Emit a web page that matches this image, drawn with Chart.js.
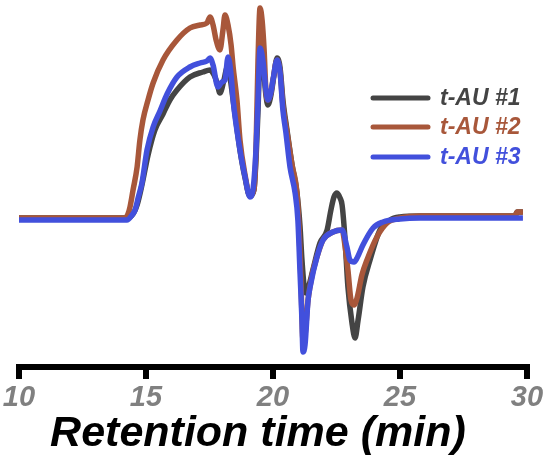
<!DOCTYPE html>
<html>
<head>
<meta charset="utf-8">
<script src="https://cdn.jsdelivr.net/npm/chart.js@4/dist/chart.umd.min.js"></script>
<style>
  html, body { margin: 0; padding: 0; background: #ffffff; }
  #wrap { width: 550px; height: 470px; }
</style>
</head>
<body>
<div id="wrap"><canvas id="c" width="550" height="470"></canvas></div>
<script>
// ---- data (retention time in min, detector signal in arbitrary units) ----
const seriesLabels = ['t-AU #1', 't-AU #2', 't-AU #3'];
const seriesColors = ['#444444', '#a8573a', '#4250dc'];
const xTicks = [10, 15, 20, 25, 30];

const time1 = [10.00,14.25,14.49,14.65,14.84,15.08,15.35,15.67,15.94,16.22,16.73,17.24,17.52,17.68,17.80,17.91,18.07,18.19,18.31,18.43,18.70,18.90,19.09,19.25,19.33,19.41,19.49,19.61,19.72,19.80,19.92,20.04,20.16,20.28,20.39,20.55,20.75,20.94,21.06,21.14,21.22,21.30,21.42,21.57,21.85,22.13,22.28,22.40,22.52,22.64,22.72,22.83,22.95,23.11,23.23,23.35,23.54,23.82,24.21,24.61,25.00,25.79,29.53,29.61,29.84];
const signal1 = [2,2,6,15,35,65,90,106,120,130,143,148,150,145,137,127,140,152,142,120,70,42,24,30,60,110,163,155,125,115,125,145,162,152,120,90,55,28,-5,-40,-65,-73,-65,-50,-23,-10,10,23,27,22,15,-17,-67,-103,-118,-100,-67,-40,-10,0,3,4,4,8,8];

const time2 = [10.00,14.17,14.29,14.37,14.49,14.65,14.76,14.88,15.08,15.28,15.67,16.22,16.73,17.13,17.40,17.52,17.64,17.76,17.91,18.03,18.11,18.23,18.35,18.43,18.58,18.70,18.90,19.09,19.25,19.33,19.41,19.49,19.57,19.65,19.72,19.80,19.92,20.00,20.16,20.28,20.39,20.55,20.75,20.94,21.02,21.10,21.18,21.26,21.38,21.54,21.73,21.97,22.36,22.72,22.83,22.95,23.07,23.19,23.31,23.50,23.70,24.09,24.49,25.00,25.79,29.53,29.61,29.84];
const signal2 = [2,2,6,13,30,53,80,100,120,137,160,180,192,195,197,203,195,180,170,190,205,195,175,153,120,80,45,24,30,70,160,212,200,170,130,120,128,140,160,148,115,88,55,28,-5,-60,-120,-115,-80,-55,-37,-20,-12,-10,-25,-50,-80,-85,-78,-55,-40,-17,-3,2,4,4,8,8];

const time3 = [10.00,14.25,14.45,14.57,14.69,14.84,15.04,15.28,15.55,15.83,16.22,16.73,17.13,17.40,17.52,17.64,17.83,17.99,18.11,18.23,18.35,18.43,18.70,18.90,19.09,19.21,19.33,19.41,19.49,19.61,19.72,19.80,19.92,20.00,20.16,20.28,20.39,20.51,20.67,20.87,20.98,21.06,21.14,21.18,21.26,21.38,21.46,21.73,21.97,22.36,22.72,22.91,23.03,23.19,23.31,23.54,23.94,24.33,25.00,25.79,29.84];
const signal3 = [0,0,5,10,22,37,70,93,109,126,143,153,157,159,162,155,133,138,140,163,145,120,70,43,23,30,70,120,172,158,130,120,128,140,160,147,110,87,53,27,0,-50,-100,-132,-125,-80,-67,-37,-20,-12,-10,-27,-40,-42,-38,-25,-8,-2,1,2,2];

function toPoints(ts, vs) { return ts.map((t, i) => ({ x: t, y: vs[i] })); }

const FONT = '"Liberation Sans", Arial, sans-serif';

const legendPlugin = {
  id: 'customLegend',
  afterDraw(chart) {
    const ctx = chart.ctx;
    const area = chart.chartArea;
    const x0 = area.left + 354, x1 = area.left + 409, tx = area.left + 421;
    const rows = [98, 127, 157];
    ctx.save();
    seriesLabels.forEach((lab, i) => {
      const y = rows[i];
      ctx.strokeStyle = seriesColors[i];
      ctx.lineWidth = 5;
      ctx.lineCap = 'round';
      ctx.beginPath(); ctx.moveTo(x0, y); ctx.lineTo(x1, y); ctx.stroke();
      ctx.fillStyle = seriesColors[i];
      ctx.font = 'italic bold 23px ' + FONT;
      ctx.textBaseline = 'middle';
      ctx.textAlign = 'left';
      ctx.fillText(lab, tx, y + 1);
    });
    ctx.restore();
  }
};

const sets = [[time1, signal1], [time2, signal2], [time3, signal3]];
const datasets = sets.map((s, i) => ({
  label: seriesLabels[i],
  data: toPoints(s[0], s[1]),
  borderColor: seriesColors[i],
  backgroundColor: seriesColors[i],
  borderWidth: 5.5,
  pointRadius: 0,
  cubicInterpolationMode: 'monotone',
  fill: false,
  order: 3 - i
}));

new Chart(document.getElementById('c'), {
  type: 'line',
  data: { datasets },
  options: {
    responsive: false,
    devicePixelRatio: 1,
    animation: false,
    layout: { padding: { left: 19, right: 23, top: 0, bottom: 0 } },
    plugins: { legend: { display: false }, tooltip: { enabled: false } },
    scales: {
      x: {
        type: 'linear', position: 'bottom', min: 10, max: 30,
        afterBuildTicks(scale) { scale.ticks = xTicks.map(v => ({ value: v })); },
        afterFit(scale) { scale.height = 103; },
        ticks: {
          color: '#808080', padding: 2, maxRotation: 0,
          font: { family: FONT, size: 29, style: 'italic', weight: 'bold' }
        },
        border: { display: true, color: '#000000', width: 6 },
        grid: { display: true, drawOnChartArea: false, drawTicks: true, tickLength: 12, lineWidth: 6, color: '#000000' },
        title: {
          display: true, text: 'Retention time (min)\u2002\u2009', color: '#000000',
          padding: { top: 0, bottom: 14 },
          font: { family: FONT, size: 43, style: 'italic', weight: 'bold', lineHeight: 1 }
        }
      },
      y: { display: false, min: -147, max: 220 }
    }
  },
  plugins: [legendPlugin]
});
</script>
</body>
</html>
